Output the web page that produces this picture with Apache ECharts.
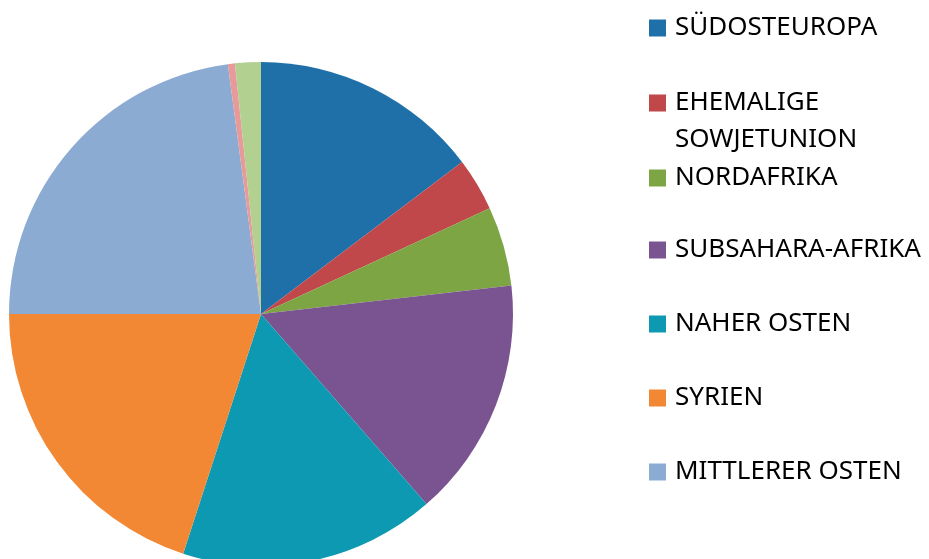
<!DOCTYPE html>
<html>
<head>
<meta charset="utf-8">
<script src="https://cdn.jsdelivr.net/npm/echarts@6/dist/echarts.min.js"></script>
<style>
  html, body { margin: 0; padding: 0; background: #fff; }
  #main { width: 929px; height: 559px; }
</style>
</head>
<body>
<div id="main"></div>
<script>
// regions (clockwise from 12 o'clock) and their shares in percent
var regions = ['SÜDOSTEUROPA', 'EHEMALIGE SOWJETUNION', 'NORDAFRIKA', 'SUBSAHARA-AFRIKA',
  'NAHER OSTEN', 'SYRIEN', 'MITTLERER OSTEN', 'SONSTIGE', 'UNBEKANNT'];
var shares = [14.7, 3.4, 5.1, 15.4, 16.4, 20.0, 22.9, 0.45, 1.65];
var colors = ['#1f70a9', '#c0474a', '#7ea544', '#7a5491', '#0d99b1', '#f28834', '#8cabd2', '#e89a9b', '#b2d08f'];

// only the first seven show up in the legend
var legendNames = regions.slice(0, 7);
var legendTops = [28, 103, 178, 250, 324, 398, 472];

var chartDom = document.getElementById('main');
var myChart = echarts.init(chartDom);

var legends = legendNames.map(function (name, i) {
  var twoLines = name === 'EHEMALIGE SOWJETUNION';
  return {
    data: [name],
    left: 649,
    top: legendTops[i] - (twoLines ? 55.5 : 18.5),
    padding: 0,
    itemWidth: 17,
    itemHeight: 17,
    icon: 'rect',
    selectedMode: false,
    // empty first line keeps the marker next to "EHEMALIGE"
    formatter: function (n) { return twoLines ? '\nEHEMALIGE\nSOWJETUNION' : n; },
    textStyle: {
      fontFamily: 'Noto Sans',
      fontSize: 26,
      color: '#000',
      lineHeight: 37,
      padding: [0, 0, 0, 4]
    }
  };
});

var option = {
  animation: false,
  color: colors,
  legend: legends,
  series: [
    {
      type: 'pie',
      center: [261, 314],
      radius: 252,
      startAngle: 90,
      clockwise: true,
      label: { show: false },
      labelLine: { show: false },
      itemStyle: { borderWidth: 0 },
      emphasis: { disabled: true },
      data: regions.map(function (r, i) {
        return { name: r, value: shares[i] };
      })
    }
  ]
};

myChart.setOption(option);
</script>
</body>
</html>
